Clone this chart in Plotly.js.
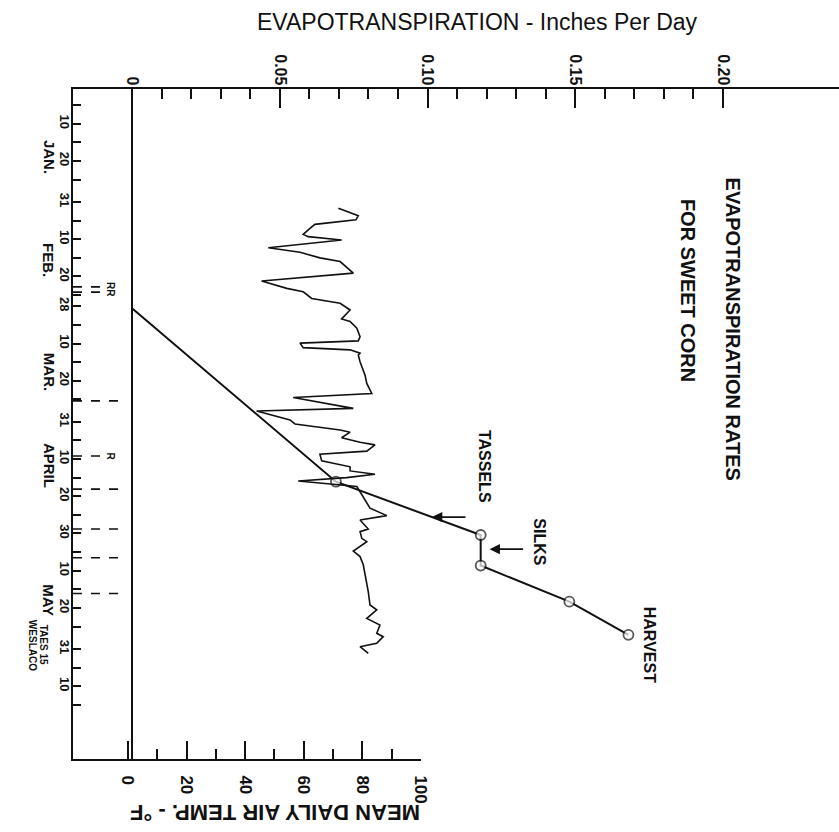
<!DOCTYPE html>
<html>
<head>
<meta charset="utf-8">
<script src="https://cdn.plot.ly/plotly-3.0.1.min.js"></script>
<style>html,body{margin:0;padding:0;background:#fff}#chart{width:839px;height:832px}</style>
</head>
<body>
<div id="chart"></div>
<script>
// Day-of-year scale: Jan 1 = 1 ... Jun 30 = 181
const monthNames = ["JAN.", "FEB.", "MAR.", "APRIL", "MAY"];
const monthNameDays = [18.9, 46.6, 76.6, 101.6, 137.9];
const monthEndDays = [31, 59, 90, 120, 151];
const labelDays = [10, 20, 31, 41, 51, 59, 69, 79, 90, 100, 110, 120, 130, 140, 151, 161];
const labelText = ["10", "20", "31", "10", "20", "28", "10", "20", "31", "10", "20", "30", "10", "20", "31", "10"];
const minorDays = [5, 15, 25, 36, 46, 56, 64, 74, 84, 95, 105, 115, 125, 135, 145, 156, 166];

// Evapotranspiration (inches per day)
const etDays = [59.5, 106.1, 120.4, 128.6, 138.3, 147.2];
const etValues = [0, 0.069, 0.118, 0.118, 0.148, 0.168];
const etMarker = [false, true, true, true, true, true];

// Mean daily air temperature (°F)
const tempDays = [32.7, 34.7, 35.8, 37.0, 38.1, 39.7, 40.3, 41.2, 43.3, 44.5, 46.0, 47.0, 50.1, 52.2, 54.2, 55.1, 56.9, 58.2, 60.0, 62.4,
  63.1, 64.9, 67.2, 68.3, 68.9, 70.1, 70.7, 71.6, 72.1, 73.9, 77.5, 79.7, 82.4, 83.5, 86.4, 87.1, 89.5, 90.6, 92.2, 92.8,
  94.3, 95.5, 96.2, 97.9, 98.7, 100.5, 102.1, 103.2, 104.1, 105.0, 105.9, 107.4, 108.8, 113.2, 115.2, 116.4, 118.8, 119.5, 121.3, 122.2,
  124.7, 126.2, 128.4, 130.7, 132.9, 135.6, 139.2, 140.5, 142.8, 144.6, 146.8, 147.7, 149.5, 150.4, 152.2];
const tempF = [71.8, 78.6, 77.8, 63.8, 62.1, 59.8, 61.5, 72.9, 47.9, 58.7, 65.5, 72.4, 76.9, 45.6, 54.2, 59.8, 62.7, 72.4, 75.8, 72.9,
  75.8, 78.1, 79.2, 78.6, 58.7, 59.8, 75.8, 79.2, 78.6, 79.2, 80.9, 81.5, 83.2, 56.4, 76.9, 43.9, 55.3, 57.0, 72.4, 75.8,
  72.9, 79.2, 84.3, 81.5, 65.5, 66.1, 75.8, 75.8, 84.3, 74.6, 58.1, 78.1, 79.2, 82.6, 88.3, 79.2, 82.0, 79.2, 79.8, 81.5,
  76.9, 79.2, 80.3, 80.9, 81.5, 82.0, 82.6, 84.9, 81.5, 86.0, 84.9, 87.1, 84.9, 79.2, 82.0];

// Events marked along the date axis
const rainDays = [53.8, 55.2, 99.2];
const rainLabels = ["RR", "R"];
const rainLabelDays = [54.5, 99.2];
const irrigationDays = [84.4, 108.1, 118.8, 126.5, 136.1];

// Growth stages
const stageNames = ["TASSELS", "SILKS", "HARVEST"];
const arrowDays = [115.6, 124.2];
const arrowET = [0.1015, 0.121];

const etTicks = [0, 0.05, 0.10, 0.15, 0.20];
const etTickText = ["0", "0.05", "0.10", "0.15", "0.20"];
const etMinor = [0.01, 0.02, 0.03, 0.04, 0.06, 0.07, 0.08, 0.09, 0.11, 0.12, 0.13, 0.14, 0.16, 0.17, 0.18, 0.19];
const tempTicks = [0, 20, 40, 60, 80, 100];
const tempMinor = [10, 30, 50, 70, 90];

const FONT = "Liberation Sans, Arial, sans-serif";
const black = "#111";

const traces = [
  {
    x: tempF, y: tempDays, xaxis: "x2", yaxis: "y", type: "scatter", mode: "lines",
    line: {color: black, width: 1.6}, hoverinfo: "skip", showlegend: false
  },
  {
    x: etValues, y: etDays, xaxis: "x", yaxis: "y", type: "scatter", mode: "lines+markers",
    line: {color: black, width: 2},
    marker: {
      size: etMarker.map(m => m ? 10 : 0), color: "#fff",
      line: {color: black, width: 1.8}
    },
    hoverinfo: "skip", showlegend: false
  }
];

const shapes = [];
rainDays.forEach(d => shapes.push({
  type: "line", xref: "x domain", yref: "y", x0: 0, x1: d > 90 ? 0.04 : 0.036, y0: d, y1: d,
  line: {color: black, width: 1.6, dash: "dash"}
}));
irrigationDays.forEach(d => shapes.push({
  type: "line", xref: "x domain", yref: "y", x0: 0, x1: 0.062, y0: d, y1: d,
  line: {color: black, width: 1.6, dash: "dash"}
}));

function ann(o) {
  return Object.assign({showarrow: false, xanchor: "center", yanchor: "middle"}, o);
}

const annotations = [];
// month names
monthNames.forEach((m, i) => annotations.push(ann({
  text: m, xref: "paper", yref: "y", x: -0.0313, y: monthNameDays[i],
  textangle: 90, font: {family: FONT, size: 15, color: black, weight: "bold"}
})));
annotations.push(ann({text: "TAES 15", xref: "paper", yref: "y", x: -0.039, y: 149.9,
  textangle: 90, font: {family: FONT, size: 10, color: black, weight: "bold"}}));
annotations.push(ann({text: "WESLACO", xref: "paper", yref: "y", x: -0.0535, y: 149.9,
  textangle: 90, font: {family: FONT, size: 10, color: black, weight: "bold"}}));
// rain labels
rainLabels.forEach((t, i) => annotations.push(ann({
  text: t, xref: "x domain", yref: "y", x: 0.049, y: rainLabelDays[i],
  textangle: 90, font: {family: FONT, size: 10, color: black, weight: "bold"}
})));
// titles
annotations.push(ann({text: "EVAPOTRANSPIRATION RATES", xref: "paper", yref: "paper", x: 0.862, y: 0.642,
  textangle: 90, font: {family: FONT, size: 20, color: black, weight: "bold"}}));
annotations.push(ann({text: "FOR SWEET CORN", xref: "paper", yref: "paper", x: 0.803, y: 0.700,
  textangle: 90, font: {family: FONT, size: 20, color: black, weight: "bold"}}));
annotations.push(ann({text: "EVAPOTRANSPIRATION - Inches Per Day", xref: "paper", yref: "paper", x: 0.5287, y: 1.1,
  font: {family: FONT, size: 23, color: black}}));
annotations.push(ann({text: "MEAN DAILY AIR TEMP. - °F", xref: "paper", yref: "paper", x: 0.2637, y: -0.0806,
  textangle: 180, font: {family: FONT, size: 22, color: black, weight: "bold"}}));
// stage labels
const stagePos = [[0.1195, 101.9], [0.138, 122.3], [0.175, 149.9]];
stageNames.forEach((s, i) => annotations.push(ann({
  text: s, xref: "x", yref: "y", x: stagePos[i][0], y: stagePos[i][1],
  textangle: 90, font: {family: FONT, size: 16, color: black, weight: "bold"}
})));
// stage arrows
arrowDays.forEach((d, i) => annotations.push({
  text: "", xref: "x", yref: "y", x: arrowET[i], y: d, ax: 35, ay: 0, showarrow: true,
  arrowhead: 2, arrowsize: 1.3, arrowwidth: 1.6, arrowcolor: black
}));

const layout = {
  width: 839, height: 832,
  margin: {l: 73, r: 0, t: 89, b: 73, pad: 0},
  paper_bgcolor: "#fff", plot_bgcolor: "rgba(0,0,0,0)",
  showlegend: false,
  font: {family: FONT, color: black},
  xaxis: {
    side: "top", anchor: "y", domain: [0, 1], range: [-0.01997, 0.23926],
    tickmode: "array", tickvals: etTicks, ticktext: etTickText, tickangle: 90,
    ticklabelstandoff: -4,
    ticks: "inside", ticklen: 19, tickwidth: 2, tickcolor: black,
    minor: {tickmode: "array", tickvals: etMinor, ticks: "inside", ticklen: 10, tickwidth: 2, tickcolor: black, showgrid: false},
    showline: true, linewidth: 2, linecolor: black,
    zeroline: true, zerolinewidth: 2, zerolinecolor: black, showgrid: false,
    tickfont: {family: FONT, size: 16, color: black, weight: "bold"}
  },
  xaxis2: {
    side: "bottom", anchor: "y", domain: [0, 0.4543], range: [-18.77, 100],
    tickmode: "array", tickvals: tempTicks, ticktext: tempTicks.map(String), tickangle: 90,
    ticklabelstandoff: 11,
    ticks: "inside", ticklen: 18, tickwidth: 2, tickcolor: black,
    minor: {tickmode: "array", tickvals: tempMinor, ticks: "inside", ticklen: 10, tickwidth: 2, tickcolor: black, showgrid: false},
    showline: true, linewidth: 2, linecolor: black, zeroline: false, showgrid: false,
    tickfont: {family: FONT, size: 17, color: black, weight: "bold"}
  },
  yaxis: {
    anchor: "x", domain: [0, 1], range: [180.54, 0.67],
    tickmode: "array", tickvals: labelDays, ticktext: labelText, tickangle: 90,
    ticklabelstandoff: -5,
    ticks: "inside", ticklen: 8, tickwidth: 2, tickcolor: black,
    minor: {tickmode: "array", tickvals: minorDays, ticks: "inside", ticklen: 8, tickwidth: 2, tickcolor: black, showgrid: false},
    showline: true, linewidth: 2, linecolor: black, zeroline: false, showgrid: false,
    tickfont: {family: FONT, size: 13, color: black, weight: "bold"}
  },
  yaxis2: {
    overlaying: "y", anchor: "x", side: "left", range: [180.54, 0.67],
    tickmode: "array", tickvals: monthEndDays, showticklabels: false,
    ticks: "inside", ticklen: 16, tickwidth: 2, tickcolor: black,
    showline: false, zeroline: false, showgrid: false
  },
  shapes: shapes,
  annotations: annotations
};

Plotly.newPlot("chart", traces, layout, {staticPlot: true, displayModeBar: false});
</script>
</body>
</html>
